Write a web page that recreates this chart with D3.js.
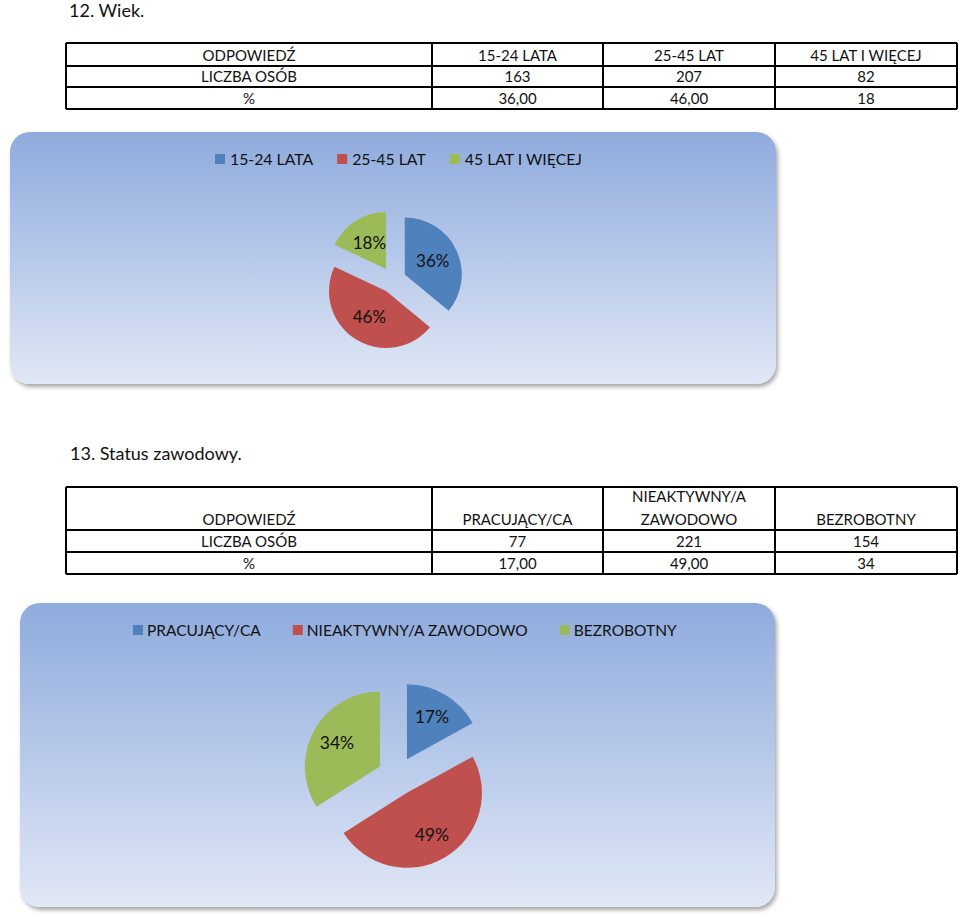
<!DOCTYPE html>
<html>
<head>
<meta charset="utf-8">
<script src="https://cdn.jsdelivr.net/npm/d3@7/dist/d3.min.js"></script>
<style>
  html, body { margin: 0; padding: 0; background: #ffffff; }
  svg { display: block; }
  text { font-family: Lato, "Open Sans", sans-serif; fill: #111; }
</style>
</head>
<body>
<svg id="chart" width="960" height="917"></svg>
<script>
// ---------- DATA ----------
const title1 = "12. Wiek.";
const headerLabel = "ODPOWIEDŹ";
const countLabel = "LICZBA OSÓB";
const percentLabel = "%";
const categories1 = ["15-24 LATA", "25-45 LAT", "45 LAT I WIĘCEJ"];
const counts1 = [163, 207, 82];
const percentText1 = ["36,00", "46,00", "18"];
const pieValues1 = [36, 46, 18];

const title2 = "13. Status zawodowy.";
const categories2 = ["PRACUJĄCY/CA", "NIEAKTYWNY/A ZAWODOWO", "BEZROBOTNY"];
const headerLines2 = [["PRACUJĄCY/CA"], ["NIEAKTYWNY/A", "ZAWODOWO"], ["BEZROBOTNY"]];
const counts2 = [77, 221, 154];
const percentText2 = ["17,00", "49,00", "34"];
const pieValues2 = [17, 49, 34];

const colors = ["#4f81bd", "#c0504d", "#9bbb59"];

// ---------- LAYOUT ----------
const svg = d3.select("#chart");
const colX = [66, 432, 603, 775, 957];

const defs = svg.append("defs");
const grad = defs.append("linearGradient").attr("id", "bg").attr("x1", 0).attr("y1", 0).attr("x2", 0).attr("y2", 1);
grad.append("stop").attr("offset", "0%").attr("stop-color", "#8fabdd");
grad.append("stop").attr("offset", "50%").attr("stop-color", "#b7c9ea");
grad.append("stop").attr("offset", "100%").attr("stop-color", "#e1e8f6");
const filt = defs.append("filter").attr("id", "shadow").attr("x", "-5%").attr("y", "-5%").attr("width", "110%").attr("height", "115%");
filt.append("feDropShadow").attr("dx", 2).attr("dy", 3).attr("stdDeviation", 2).attr("flood-color", "#000").attr("flood-opacity", 0.35);

function drawTable(rowsY, header, rows, opts) {
  const g = svg.append("g");
  const x0 = colX[0], x1 = colX[colX.length - 1];
  rowsY.forEach(y => g.append("line").attr("x1", x0).attr("x2", x1).attr("y1", y).attr("y2", y)
    .attr("stroke", "#000").attr("stroke-width", 2));
  colX.forEach(x => g.append("line").attr("x1", x).attr("x2", x).attr("y1", rowsY[0]).attr("y2", rowsY[rowsY.length - 1])
    .attr("stroke", "#000").attr("stroke-width", 2));
  const cx = i => (colX[i] + colX[i + 1]) / 2;
  header.forEach((lines, i) => {
    const n = lines.length;
    lines.forEach((t, k) => {
      g.append("text").attr("x", cx(i)).attr("y", rowsY[1] - opts.pad - (n - 1 - k) * opts.lh)
        .attr("text-anchor", "middle").attr("font-size", opts.fs).text(t);
    });
  });
  rows.forEach((row, r) => {
    row.forEach((t, i) => {
      g.append("text").attr("x", cx(i)).attr("y", rowsY[r + 2] - opts.pad)
        .attr("text-anchor", "middle").attr("font-size", opts.fs).text(t);
    });
  });
}

function drawPieChart(box, legendItems, legendOpts, values, pie) {
  const g = svg.append("g");
  g.append("rect").attr("x", box.x).attr("y", box.y).attr("width", box.w).attr("height", box.h)
    .attr("rx", 20).attr("ry", 20).attr("fill", "url(#bg)").attr("filter", "url(#shadow)");

  const lg = g.append("g");
  let x = legendOpts.x;
  legendItems.forEach((t, i) => {
    lg.append("rect").attr("x", x).attr("y", legendOpts.y - 5).attr("width", 10).attr("height", 10).attr("fill", colors[i]);
    const tx = lg.append("text").attr("x", x + legendOpts.tOff).attr("y", legendOpts.y + legendOpts.fs * 0.36)
      .attr("font-size", legendOpts.fs).text(t);
    x += legendOpts.tOff + tx.node().getComputedTextLength() + legendOpts.gap;
  });

  const arcs = d3.pie().sort(null).value(d => d)(values);
  const arc = d3.arc().innerRadius(0).outerRadius(pie.r);
  const pg = g.append("g").attr("transform", `translate(${pie.cx},${pie.cy})`);
  arcs.forEach((a, i) => {
    const mid = (a.startAngle + a.endAngle) / 2;
    const ox = Math.sin(mid) * pie.explode, oy = -Math.cos(mid) * pie.explode;
    const sg = pg.append("g").attr("transform", `translate(${ox},${oy})`);
    sg.append("path").attr("d", arc(a)).attr("fill", colors[i]).attr("stroke", "none");
    const lr = pie.r - 26;
    sg.append("text").attr("x", Math.sin(mid) * lr).attr("y", -Math.cos(mid) * lr + pie.fs * 0.36)
      .attr("text-anchor", "middle").attr("font-size", pie.fs).text(values[i] + "%");
  });
}

// ---------- SECTION 12 ----------
svg.append("text").attr("x", 69).attr("y", 17).attr("font-size", 18).text(title1);
drawTable([43, 66, 87, 109],
  [[headerLabel]].concat(categories1.map(c => [c])),
  [[countLabel].concat(counts1.map(String)), [percentLabel].concat(percentText1)],
  { fs: 15, pad: 5, lh: 23 });
drawPieChart({ x: 10, y: 132, w: 766, h: 252 },
  categories1, { x: 215, y: 159, fs: 15.8, gap: 24, tOff: 15 },
  pieValues1, { cx: 393, cy: 280, r: 57, explode: 13, fs: 17 });

// ---------- SECTION 13 ----------
svg.append("text").attr("x", 70).attr("y", 460).attr("font-size", 18).text(title2);
drawTable([487, 530, 552, 574],
  [[headerLabel]].concat(headerLines2),
  [[countLabel].concat(counts2.map(String)), [percentLabel].concat(percentText2)],
  { fs: 15, pad: 5, lh: 23 });
drawPieChart({ x: 20, y: 603, w: 755, h: 304 },
  categories2, { x: 133, y: 630, fs: 15.5, gap: 32, tOff: 14 },
  pieValues2, { cx: 397, cy: 776, r: 75, explode: 19.5, fs: 17.5 });
</script>
</body>
</html>
